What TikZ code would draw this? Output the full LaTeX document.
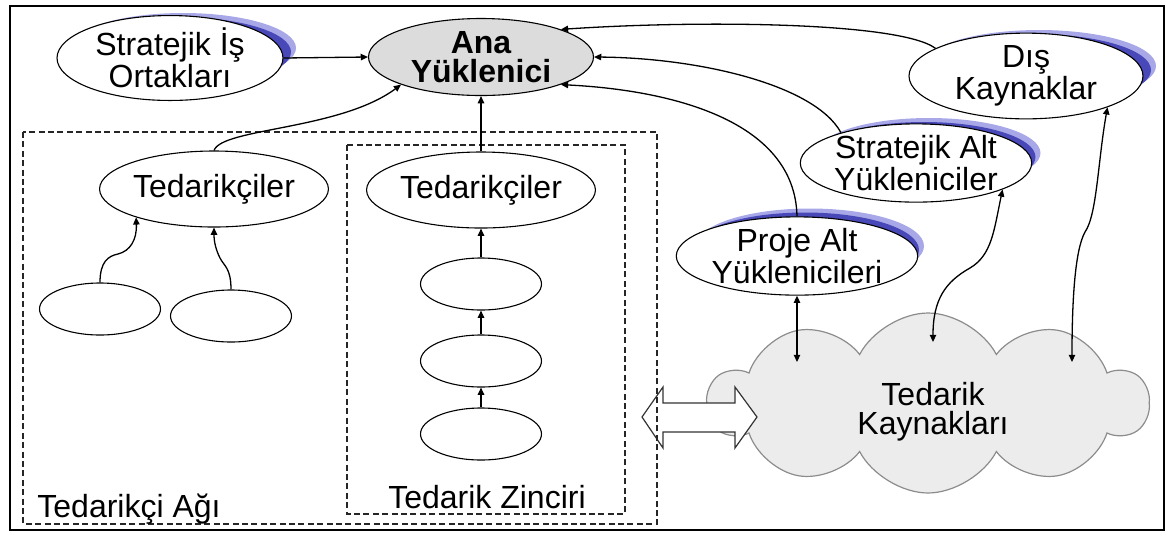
\documentclass[tikz,border=0pt]{standalone}
\usepackage{fontspec}
\setmainfont{Liberation Sans}
\usetikzlibrary{shapes.geometric,shapes.symbols,arrows.meta,calc}
\definecolor{shlight}{HTML}{A8A8E8}
\definecolor{shdark}{HTML}{4848B8}
\definecolor{anagray}{HTML}{DCDCDC}
\definecolor{cloudfill}{HTML}{ECECEC}
\definecolor{cloudline}{HTML}{8C8C8C}
\newcommand{\fs}{\fontsize{16pt}{14.5pt}\selectfont}
\begin{document}
\begin{tikzpicture}[x=0.5pt,y=-0.5pt,
 ell/.style={ellipse, draw=black, line width=0.55pt, fill=white, inner sep=0pt, align=center, font=\fs},
 shl/.style={ellipse, fill=shlight, inner sep=0pt},
 shd/.style={ellipse, fill=shdark, inner sep=0pt},
 conn/.style={line width=0.65pt, -{Triangle[length=3.6pt,width=3.2pt]}},
 biconn/.style={line width=0.65pt, {Triangle[length=3.6pt,width=3.2pt]}-{Triangle[length=3.6pt,width=3.2pt]}},
 dbox/.style={draw=black!85, line width=0.55pt, dash pattern=on 3pt off 1.7pt},
 lbl/.style={font=\fs, inner sep=0pt, align=center}]

\useasboundingbox (0,0) rectangle (1169,532);
\draw[line width=1pt] (10,6) rectangle (1164,530);

% cloud
\node[cloud, cloud puffs=10, cloud puff arc=125, cloud ignores aspect, draw=cloudline, fill=cloudfill,
      minimum width=220pt, minimum height=90pt, inner sep=0pt, line width=0.6pt, shape border rotate=8] (tk) at (928,403) {};
\node[lbl] (tkl) at (933,412) {Tedarik\\Kaynakları};

% double block arrow
\draw[line width=0.6pt, draw=black!80, fill=white] (642,417) -- (663,387) -- (663,403) -- (735,403)
  -- (735,387) -- (757,417) -- (735,448) -- (735,432) -- (663,432) -- (663,448) -- cycle;

% dashed groups
\draw[dbox] (23,132) rectangle (657,524);
\draw[dbox] (347,145) rectangle (625,514);
\node[lbl, anchor=west] (ta) at (37,509) {Tedarikçi Ağı};
\node[lbl] (tz) at (487,497) {Tedarik Zinciri};

% top ellipses with blue shadows
\node[shl, minimum width=113pt, minimum height=35pt] (so-l) at (183,48) {};
\node[shd, minimum width=113pt, minimum height=35pt] (so-d) at (178,52) {};
\node[ell, minimum width=113pt, minimum height=35pt] (so) at (170,58) {Stratejik İş\\Ortakları};

\node[ell, fill=anagray, font=\fs\bfseries, minimum width=112.5pt, minimum height=38.5pt] (ana) at (481,57) {Ana\\Yüklenici};

\node[shl, minimum width=117pt, minimum height=36pt] (dis-l) at (1039,66) {};
\node[shd, minimum width=117pt, minimum height=36pt] (dis-d) at (1034,70) {};
\node[ell, minimum width=117pt, minimum height=36pt] (dis) at (1026,76) {Dış\\Kaynaklar};

\node[shl, minimum width=111.5pt, minimum height=35pt] (sa-l) at (929,153) {};
\node[shd, minimum width=111.5pt, minimum height=35pt] (sa-d) at (924,157) {};
\node[ell, minimum width=111.5pt, minimum height=35pt] (sa) at (916,163) {Stratejik Alt\\Yükleniciler};

\node[shl, minimum width=114pt, minimum height=37.5pt] (pa-l) at (810,246) {};
\node[shd, minimum width=114pt, minimum height=37.5pt] (pa-d) at (805,250) {};
\node[ell, minimum width=114pt, minimum height=37.5pt] (pa) at (797,256) {Proje Alt\\Yüklenicileri};

% supplier ellipses
\node[ell, minimum width=112.5pt, minimum height=38pt] (t1) at (214,189) {Tedarikçiler};
\node[ell, minimum width=112.5pt, minimum height=38pt] (t2) at (481,190) {Tedarikçiler};
\node[ell, minimum width=60.5pt, minimum height=26pt] (e1) at (100,309) {};
\node[ell, minimum width=60.5pt, minimum height=26pt] (e2) at (231,316) {};
\node[ell, minimum width=60.5pt, minimum height=26pt] (c1) at (481,284) {};
\node[ell, minimum width=60.5pt, minimum height=26pt] (c2) at (481,361) {};
\node[ell, minimum width=60.5pt, minimum height=26pt] (c3) at (481,434) {};

% cloud end points
\coordinate (k1) at (797,362);
\coordinate (k2) at (933,342);
\coordinate (k3) at (1072,362);

% connectors
\draw[conn] (so.east) -- (ana.west);
\draw[conn] (t1.north) .. controls (222,128) and (340,130) .. (ana.south west);
\draw[conn] (t2.north) -- (ana.south);
\draw[conn] (dis.163) .. controls (900,22) and (700,20) .. (ana.north east);
\draw[conn] (sa.158) .. controls (815,85) and (700,58) .. (ana.east);
\draw[conn] (pa.north) .. controls (795,120) and (670,90) .. (ana.south east);
\draw[biconn] (pa.south) -- (k1);
\draw[biconn] (sa.-17) .. controls (994,230) and (992,255) .. (970,268) .. controls (945,282) and (933,300) .. (k2);
\draw[biconn] (dis.-21) .. controls (1098,160) and (1097,215) .. (1085,232) .. controls (1075,250) and (1072,300) .. (k3);
\draw[conn] (e1.north) .. controls (100,262) and (108,256) .. (118,254) .. controls (130,251) and (137,240) .. (t1.200);
\draw[conn] (e2.north) .. controls (231,268) and (224,266) .. (220,258) .. controls (216,250) and (214,242) .. (t1.south);
\draw[conn] (c1.north) -- (t2.south);
\draw[conn] (c2.north) -- (c1.south);
\draw[conn] (c3.north) -- (c2.south);
\end{tikzpicture}
\end{document}
